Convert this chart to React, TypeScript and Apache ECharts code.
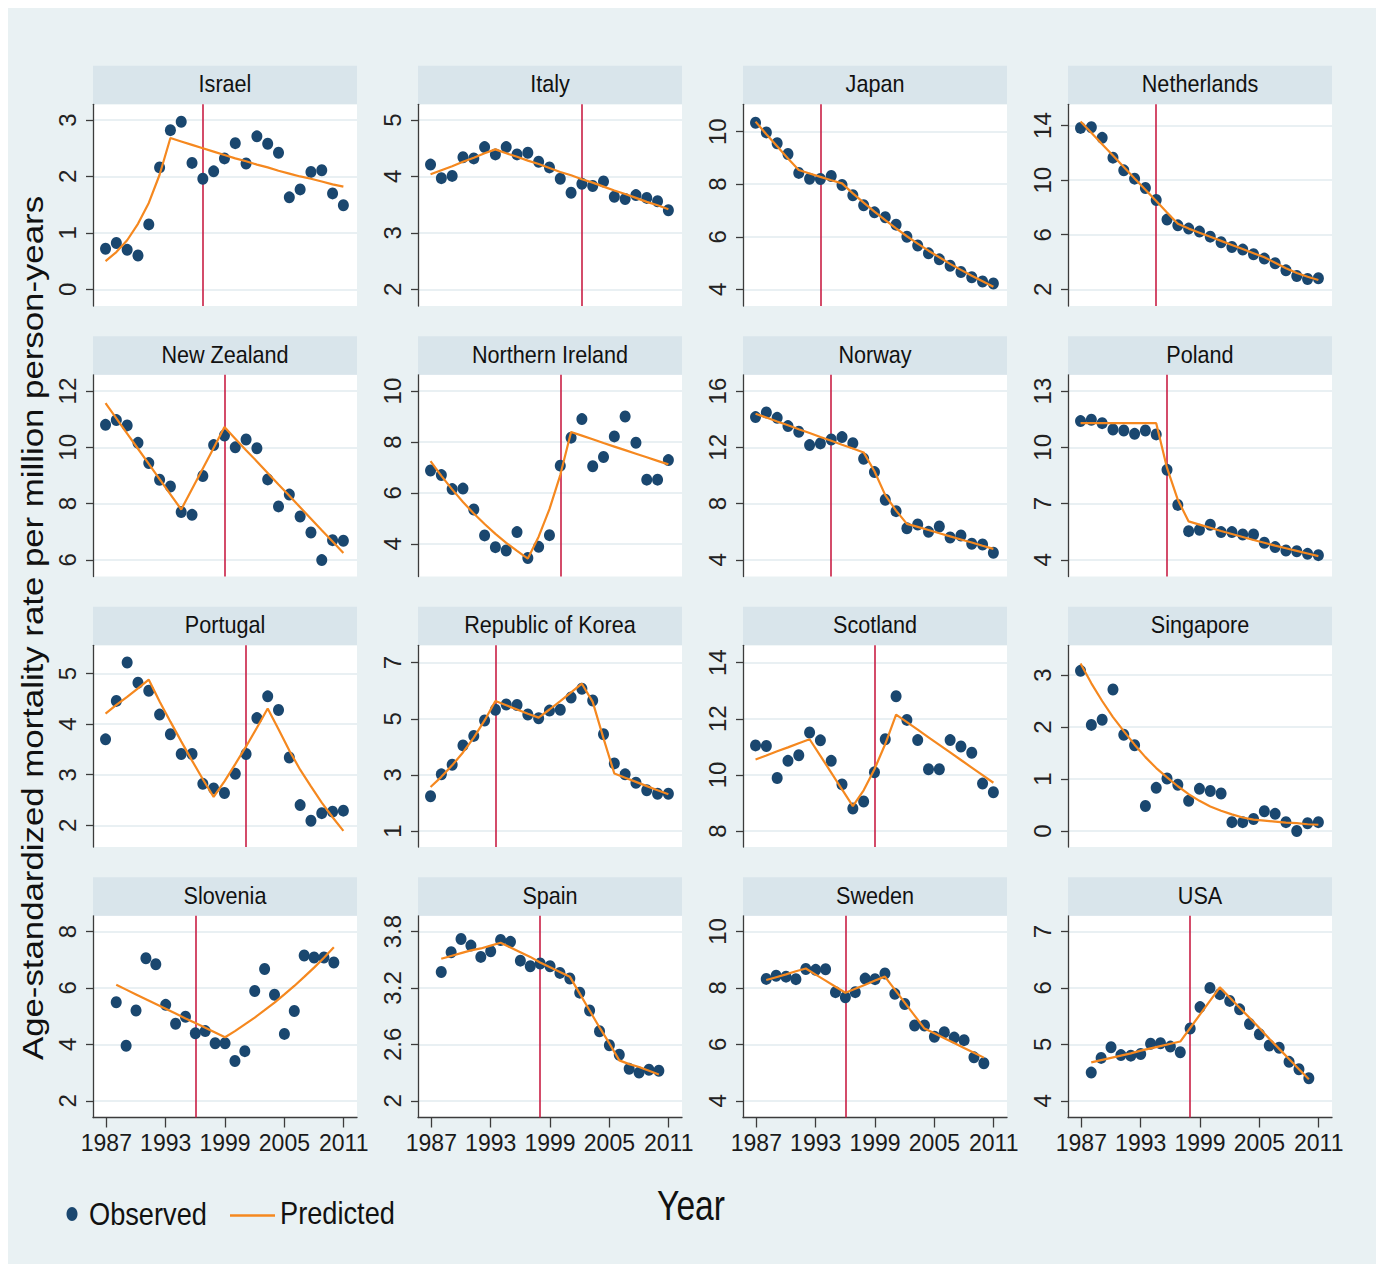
import React, { useEffect, useRef } from "react";
import * as echarts from "echarts";

const years = [1988, 1989, 1990, 1991, 1992, 1993, 1994, 1995, 1996, 1997, 1998, 1999, 2000, 2001, 2002, 2003, 2004, 2005, 2006, 2007, 2008, 2009, 2010];
const xTickYears = [1987, 1993, 1999, 2005, 2011];

const countries = ["Israel", "Italy", "Japan", "Netherlands", "New Zealand", "Northern Ireland", "Norway", "Poland", "Portugal", "Republic of Korea", "Scotland", "Singapore", "Slovenia", "Spain", "Sweden", "USA"];

const israelObs = [0.72, 0.82, 0.70, 0.60, 1.15, 2.16, 2.82, 2.97, 2.24, 1.96, 2.09, 2.32, 2.59, 2.23, 2.71, 2.58, 2.42, 1.63, 1.77, 2.08, 2.11, 1.70, 1.49];
const israelPred = [0.50, 0.66, 0.87, 1.16, 1.53, 2.03, 2.68, 2.62, 2.56, 2.50, 2.44, 2.38, 2.32, 2.27, 2.21, 2.16, 2.10, 2.05, 2.00, 1.96, 1.91, 1.86, 1.82];
const italyObs = [4.21, 3.97, 4.01, 4.34, 4.32, 4.52, 4.39, 4.52, 4.39, 4.42, 4.26, 4.16, 3.96, 3.71, 3.87, 3.83, 3.91, 3.64, 3.60, 3.67, 3.62, 3.56, 3.40];
const italyPred = [4.04, 4.11, 4.18, 4.26, 4.33, 4.41, 4.48, 4.41, 4.35, 4.28, 4.22, 4.15, 4.08, 4.02, 3.95, 3.89, 3.82, 3.75, 3.69, 3.62, 3.55, 3.49, 3.42];
const japanObs = [10.34, 9.97, 9.56, 9.15, 8.43, 8.21, 8.20, 8.31, 7.97, 7.58, 7.20, 6.93, 6.74, 6.46, 6.00, 5.67, 5.37, 5.14, 4.90, 4.66, 4.46, 4.30, 4.22];
const japanPred = [10.38, 9.90, 9.44, 8.98, 8.54, 8.41, 8.28, 8.15, 8.03, 7.65, 7.30, 6.96, 6.63, 6.32, 6.02, 5.74, 5.47, 5.22, 4.97, 4.74, 4.52, 4.31, 4.10];
const netherlandsObs = [13.83, 13.88, 13.10, 11.65, 10.72, 10.11, 9.43, 8.55, 7.11, 6.69, 6.45, 6.23, 5.86, 5.45, 5.10, 4.91, 4.57, 4.25, 3.91, 3.39, 2.98, 2.76, 2.81];
const netherlandsPred = [14.30, 13.47, 12.63, 11.80, 10.97, 10.13, 9.30, 8.47, 7.63, 6.80, 6.45, 6.15, 5.85, 5.55, 5.25, 4.95, 4.65, 4.35, 3.95, 3.55, 3.20, 2.92, 2.68];
const newZealandObs = [10.80, 10.97, 10.78, 10.16, 9.44, 8.85, 8.61, 7.70, 7.60, 8.98, 10.08, 10.42, 10.00, 10.28, 9.97, 8.86, 7.90, 8.32, 7.54, 6.97, 5.99, 6.70, 6.68];
const newZealandPred = [11.57, 11.03, 10.49, 9.95, 9.41, 8.87, 8.33, 7.79, 8.52, 9.25, 9.98, 10.72, 10.31, 9.90, 9.50, 9.09, 8.68, 8.28, 7.87, 7.46, 7.05, 6.65, 6.24];
const nIrelandObs = [6.88, 6.70, 6.15, 6.17, 5.35, 4.33, 3.87, 3.74, 4.46, 3.44, 3.88, 4.34, 7.07, 8.17, 8.90, 7.05, 7.41, 8.22, 9.00, 7.97, 6.52, 6.52, 7.29];
const nIrelandPred = [7.25, 6.67, 6.14, 5.64, 5.19, 4.78, 4.39, 4.04, 3.72, 3.42, 4.28, 5.36, 6.70, 8.39, 8.25, 8.11, 7.96, 7.82, 7.68, 7.54, 7.40, 7.26, 7.12];
const norwayObs = [14.15, 14.48, 14.10, 13.51, 13.11, 12.16, 12.28, 12.56, 12.73, 12.30, 11.19, 10.24, 8.27, 7.46, 6.25, 6.51, 5.99, 6.37, 5.59, 5.73, 5.14, 5.09, 4.50];
const norwayPred = [14.39, 14.12, 13.84, 13.57, 13.29, 13.02, 12.74, 12.47, 12.19, 11.92, 11.64, 10.30, 8.60, 7.50, 6.56, 6.34, 6.12, 5.89, 5.67, 5.45, 5.23, 5.00, 4.78];
const polandObs = [11.40, 11.47, 11.29, 10.95, 10.90, 10.72, 10.90, 10.69, 8.80, 6.93, 5.53, 5.60, 5.87, 5.48, 5.48, 5.35, 5.35, 4.91, 4.68, 4.50, 4.46, 4.32, 4.25];
const polandPred = [11.29, 11.29, 11.29, 11.29, 11.29, 11.29, 11.29, 11.29, 8.90, 7.20, 6.05, 5.88, 5.71, 5.54, 5.38, 5.22, 5.06, 4.91, 4.76, 4.62, 4.48, 4.34, 4.20];
const portugalObs = [3.70, 4.46, 5.22, 4.82, 4.66, 4.19, 3.80, 3.41, 3.41, 2.82, 2.73, 2.64, 3.02, 3.41, 4.12, 4.55, 4.28, 3.34, 2.40, 2.09, 2.24, 2.27, 2.29];
const portugalPred = [4.21, 4.38, 4.54, 4.71, 4.88, 4.45, 4.05, 3.66, 3.28, 2.91, 2.56, 2.87, 3.21, 3.56, 3.93, 4.31, 3.90, 3.48, 3.10, 2.77, 2.45, 2.16, 1.89];
const koreaObs = [2.24, 3.02, 3.36, 4.05, 4.39, 4.94, 5.32, 5.51, 5.49, 5.15, 5.02, 5.29, 5.32, 5.76, 6.07, 5.65, 4.45, 3.41, 3.02, 2.72, 2.45, 2.33, 2.33];
const koreaPred = [2.57, 2.93, 3.34, 3.80, 4.33, 4.94, 5.63, 5.48, 5.33, 5.18, 5.04, 5.33, 5.63, 5.94, 6.25, 5.60, 4.30, 3.05, 2.90, 2.75, 2.60, 2.45, 2.31];
const scotlandObs = [11.05, 11.03, 9.89, 10.50, 10.70, 11.51, 11.23, 10.50, 9.66, 8.80, 9.05, 10.09, 11.27, 12.80, 11.96, 11.24, 10.20, 10.20, 11.24, 11.01, 10.79, 9.69, 9.38];
const scotlandPred = [10.55, 10.69, 10.84, 10.98, 11.13, 11.27, 10.68, 10.08, 9.48, 8.89, 9.45, 10.20, 11.10, 12.15, 11.88, 11.61, 11.34, 11.07, 10.80, 10.53, 10.26, 9.99, 9.72];
const singaporeObs = [3.08, 2.04, 2.14, 2.72, 1.85, 1.65, 0.48, 0.83, 1.01, 0.89, 0.58, 0.81, 0.77, 0.72, 0.17, 0.17, 0.23, 0.38, 0.33, 0.17, 0.00, 0.15, 0.17];
const singaporePred = [3.22, 2.84, 2.50, 2.19, 1.92, 1.66, 1.42, 1.21, 1.03, 0.86, 0.71, 0.58, 0.47, 0.39, 0.32, 0.26, 0.22, 0.20, 0.18, 0.16, 0.15, 0.13, 0.12];
const sloveniaObs = [5.49, 3.95, 5.20, 7.05, 6.84, 5.40, 4.73, 4.98, 4.39, 4.47, 4.04, 4.04, 3.41, 3.76, 5.89, 6.67, 5.76, 4.37, 5.18, 7.15, 7.08, 7.08, 6.90];
const sloveniaPred = [6.11, 5.94, 5.77, 5.60, 5.43, 5.26, 5.09, 4.92, 4.76, 4.59, 4.42, 4.25, 4.47, 4.71, 4.95, 5.21, 5.48, 5.77, 6.07, 6.39, 6.72, 7.07, 7.44];
const spainObs = [3.37, 3.58, 3.72, 3.65, 3.53, 3.59, 3.71, 3.69, 3.49, 3.43, 3.46, 3.43, 3.36, 3.30, 3.15, 2.96, 2.74, 2.59, 2.49, 2.34, 2.30, 2.33, 2.32];
const spainPred = [3.51, 3.54, 3.57, 3.60, 3.62, 3.65, 3.68, 3.63, 3.58, 3.53, 3.47, 3.42, 3.37, 3.32, 3.14, 2.96, 2.78, 2.61, 2.43, 2.39, 2.36, 2.32, 2.28];
const swedenObs = [8.32, 8.43, 8.40, 8.31, 8.67, 8.64, 8.66, 7.85, 7.67, 7.85, 8.33, 8.31, 8.51, 7.79, 7.43, 6.67, 6.67, 6.27, 6.43, 6.24, 6.15, 5.54, 5.33];
const swedenPred = [8.28, 8.38, 8.48, 8.59, 8.69, 8.47, 8.26, 8.04, 7.83, 7.97, 8.11, 8.26, 8.40, 7.94, 7.48, 7.02, 6.56, 6.39, 6.22, 6.05, 5.87, 5.70, 5.53];
const usaObs = [4.50, 4.76, 4.95, 4.81, 4.80, 4.83, 5.01, 5.02, 4.96, 4.86, 5.28, 5.66, 6.00, 5.89, 5.77, 5.62, 5.36, 5.18, 4.98, 4.94, 4.69, 4.56, 4.40];
const usaPred = [4.68, 4.72, 4.76, 4.80, 4.84, 4.89, 4.93, 4.97, 5.01, 5.05, 5.29, 5.53, 5.77, 6.01, 5.83, 5.65, 5.47, 5.29, 5.10, 4.92, 4.74, 4.56, 4.38];

const observedSets = [israelObs, italyObs, japanObs, netherlandsObs, newZealandObs, nIrelandObs, norwayObs, polandObs, portugalObs, koreaObs, scotlandObs, singaporeObs, sloveniaObs, spainObs, swedenObs, usaObs];
const predictedSets = [israelPred, italyPred, japanPred, netherlandsPred, newZealandPred, nIrelandPred, norwayPred, polandPred, portugalPred, koreaPred, scotlandPred, singaporePred, sloveniaPred, spainPred, swedenPred, usaPred];
const breakYears = [1997, 2002, 1994, 1995, 1999, 2000, 1995, 1996, 2001, 1994, 1999, null, 1996, 1998, 1996, 1998];
const yTickSets = [
  [0, 1, 2, 3], [2, 3, 4, 5], [4, 6, 8, 10], [2, 6, 10, 14],
  [6, 8, 10, 12], [4, 6, 8, 10], [4, 8, 12, 16], [4, 7, 10, 13],
  [2, 3, 4, 5], [1, 3, 5, 7], [8, 10, 12, 14], [0, 1, 2, 3],
  [2, 4, 6, 8], [2, 2.6, 3.2, 3.8], [4, 6, 8, 10], [4, 5, 6, 7],
];
const yMins = [-0.295, 1.705, 3.366, 0.778, 5.407, 2.716, 2.814, 3.111, 1.571, 0.43, 7.43, -0.308, 1.408, 1.8225, 3.408, 3.704];
const yMaxs = [3.278, 5.278, 11.04, 15.56, 12.58, 10.64, 17.16, 13.87, 5.56, 7.618, 14.618, 3.571, 8.556, 3.967, 10.556, 7.278];

const DOT = "#1a476f";
const ORANGE = "#f5881f";
const RED = "#c91f45";
const AXIS = "#3c3c3c";
const HEADER = "#d9e5eb";
const GRIDLINE = "#e2ebef";

const PLOT_LEFT0 = 93;
const COL_PITCH = 325;
const PLOT_W = 264;
const PLOT_TOP0 = 104.3;
const ROW_PITCH = 270.5;
const PLOT_H = 201.7;
const HEADER_H = 38.5;

export default function App() {
  const ref = useRef<HTMLDivElement>(null);

  useEffect(() => {
    if (!ref.current) return;
    const chart = echarts.init(ref.current, undefined, { renderer: "svg" });

    const grids: any[] = [];
    const xAxes: any[] = [];
    const yAxes: any[] = [];
    const series: any[] = [];
    const graphics: any[] = [];

    countries.forEach((name, i) => {
      const r = Math.floor(i / 4);
      const c = i % 4;
      const left = PLOT_LEFT0 + COL_PITCH * c;
      const top = PLOT_TOP0 + ROW_PITCH * r;
      const bottomRow = r === 3;
      grids.push({ left, top, width: PLOT_W, height: PLOT_H, show: true, backgroundColor: "#ffffff", borderWidth: 0, containLabel: false });
      xAxes.push({
        type: "value",
        gridIndex: i,
        min: bottomRow ? 1985.65 : 1986.84,
        max: bottomRow ? 2012.34 : 2011.26,
        axisLine: { show: bottomRow, onZero: false, lineStyle: { color: AXIS, width: 1.3 } },
        axisTick: { show: bottomRow, length: 10, inside: false, customValues: xTickYears, lineStyle: { color: AXIS, width: 1.3 } },
        axisLabel: {
          show: bottomRow,
          customValues: xTickYears,
          margin: 14,
          fontSize: 23,
          color: "#1a1a1a",
          fontFamily: "'Liberation Sans Narrow', 'Arial Narrow', 'Liberation Sans', sans-serif",
          formatter: (v: number) => String(v),
        },
        splitLine: { show: false },
      });
      yAxes.push({
        type: "value",
        gridIndex: i,
        min: yMins[i],
        max: yMaxs[i],
        axisLine: { show: true, onZero: false, lineStyle: { color: AXIS, width: 1.3 } },
        axisTick: { show: true, length: 7, customValues: yTickSets[i], lineStyle: { color: AXIS, width: 1.3 } },
        axisLabel: {
          show: true,
          rotate: 90,
          margin: 14,
          fontSize: 24,
          color: "#222222",
          fontFamily: "'Liberation Sans', Arial, sans-serif",
          customValues: yTickSets[i],
          formatter: (v: number) => String(v),
        },
        splitLine: { show: true, lineStyle: { color: GRIDLINE, width: 1.6 } },
      });
      const by = breakYears[i];
      series.push({
        type: "scatter",
        name: "Observed",
        xAxisIndex: i,
        yAxisIndex: i,
        z: 2,
        data: years.map((yr, k) => [yr, observedSets[i][k]]),
        symbol: "circle",
        symbolSize: [11, 12],
        itemStyle: { color: DOT, opacity: 1 },
        markLine: by
          ? {
              silent: true,
              z: 1,
              symbol: ["none", "none"],
              label: { show: false },
              lineStyle: { color: RED, width: 1.6, type: "solid" },
              data: [{ xAxis: by }],
            }
          : undefined,
      });
      series.push({
        type: "line",
        name: "Predicted",
        xAxisIndex: i,
        yAxisIndex: i,
        z: 3,
        data: years.map((yr, k) => [yr, predictedSets[i][k]]),
        showSymbol: false,
        symbol: "none",
        lineStyle: { color: ORANGE, width: 2.2 },
      });
      graphics.push({
        type: "rect",
        shape: { x: left, y: top - HEADER_H, width: PLOT_W, height: HEADER_H },
        style: { fill: HEADER },
        silent: true,
      });
      graphics.push({
        type: "text",
        x: left + PLOT_W / 2,
        y: top - HEADER_H / 2 - 1,
        scaleX: 0.9,
        style: {
          text: name,
          fontSize: 24,
          fontFamily: "'Liberation Sans', Arial, sans-serif",
          fill: "#111111",
          align: "center",
          verticalAlign: "middle",
        },
        silent: true,
      });
    });

    graphics.push({
      type: "text",
      x: 33,
      y: 628,
      rotation: Math.PI / 2,
      scaleX: 1.16,
      style: {
        text: "Age-standardized mortality rate per million person-years",
        fontSize: 30,
        fontFamily: "'Liberation Sans', Arial, sans-serif",
        fill: "#111111",
        align: "center",
        verticalAlign: "middle",
      },
      silent: true,
    });
    graphics.push({
      type: "ellipse",
      shape: { cx: 72, cy: 1214, rx: 5.5, ry: 7 },
      style: { fill: DOT },
      silent: true,
    });
    graphics.push({
      type: "text",
      x: 89,
      y: 1214,
      scaleX: 0.85,
      style: { text: "Observed", fontSize: 32, fontFamily: "'Liberation Sans', Arial, sans-serif", fill: "#111111", align: "left", verticalAlign: "middle" },
      silent: true,
    });
    graphics.push({
      type: "line",
      shape: { x1: 230, y1: 1215.5, x2: 275, y2: 1215.5 },
      style: { stroke: ORANGE, lineWidth: 2.5 },
      silent: true,
    });
    graphics.push({
      type: "text",
      x: 280,
      y: 1213,
      scaleX: 0.85,
      style: { text: "Predicted", fontSize: 32, fontFamily: "'Liberation Sans', Arial, sans-serif", fill: "#111111", align: "left", verticalAlign: "middle" },
      silent: true,
    });
    graphics.push({
      type: "text",
      x: 691,
      y: 1206,
      scaleX: 0.8,
      style: { text: "Year", fontSize: 42, fontFamily: "'Liberation Sans', Arial, sans-serif", fill: "#111111", align: "center", verticalAlign: "middle" },
      silent: true,
    });

    chart.setOption({
      animation: false,
      backgroundColor: "transparent",
      textStyle: { fontFamily: "'Liberation Sans', Arial, sans-serif" },
      grid: grids,
      xAxis: xAxes,
      yAxis: yAxes,
      series,
      graphic: { elements: graphics },
    });

    return () => chart.dispose();
  }, []);

  return (
    <div style={{ position: "absolute", left: 0, top: 0, width: 1384, height: 1264, background: "#ffffff" }}>
      <div style={{ position: "absolute", left: 8, top: 8, width: 1368, height: 1256, background: "#e9f1f3" }} />
      <div ref={ref} style={{ position: "absolute", left: 0, top: 0, width: 1384, height: 1264 }} />
    </div>
  );
}
